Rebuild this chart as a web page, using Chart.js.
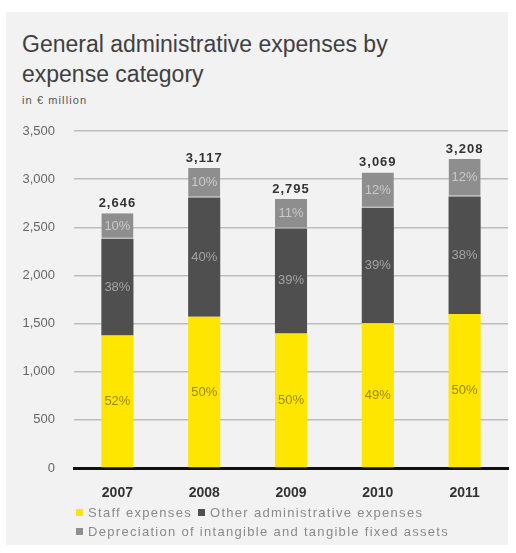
<!DOCTYPE html>
<html>
<head>
<meta charset="utf-8">
<script src="https://cdn.jsdelivr.net/npm/chart.js@4/dist/chart.umd.min.js"></script>
<style>
  html, body { margin: 0; padding: 0; background: #fff; }
  body { width: 516px; height: 553px; position: relative; overflow: hidden; font-family: "Liberation Sans", Arial, sans-serif; }
  .panel { position: absolute; left: 6px; top: 12px; width: 502px; height: 533px; background: #f2f2f2; }
  .title { position: absolute; left: 22px; top: 29px; font-size: 23px; line-height: 30px; color: #404040; }
  .unit { position: absolute; left: 22px; top: 94px; font-size: 11px; line-height: 13px; color: #555; letter-spacing: 1.1px; }
  canvas { position: absolute; left: 0; top: 0; }
  .legend { position: absolute; left: 76px; top: 503px; font-size: 13px; line-height: 19px; color: #8a8a8a; letter-spacing: 1.3px; }
  .legend span.item { margin-right: 6px; }
  .legend i { display: inline-block; width: 7px; height: 7px; margin-right: 5px; vertical-align: 1px; }
</style>
</head>
<body>
<div class="panel"></div>
<div class="title">General administrative expenses by<br>expense category</div>
<div class="unit">in € million</div>
<canvas id="chart" width="516" height="553"></canvas>
<div class="legend" id="legend"></div>

<script>
// values in € million per year
const years = ['2007', '2008', '2009', '2010', '2011'];
const staffExpenses = [1376, 1570, 1398, 1504, 1600];
const otherExpenses = [1005, 1240, 1090, 1200, 1220];
const depreciation = [265, 307, 307, 365, 388];

const seriesNames = ['Staff expenses', 'Other administrative expenses', 'Depreciation of intangible and tangible fixed assets'];
const seriesColors = ['#ffe600', '#4f4f4f', '#8e8e8e'];
const pctColors = ['#9a8800', '#a3a3a3', '#c9c9c9'];

const yMax = 3500;
const yStep = 500;

const totals = years.map((y, i) => staffExpenses[i] + otherExpenses[i] + depreciation[i]);

// percentage labels inside each segment, total on top of each stack
const barLabels = {
    id: 'barLabels',
    afterDatasetsDraw(chart) {
        const ctx = chart.ctx;
        ctx.save();
        ctx.textAlign = 'center';
        ctx.textBaseline = 'middle';
        ctx.font = '13px "Liberation Sans", Arial, sans-serif';
        chart.data.datasets.forEach((ds, i) => {
            chart.getDatasetMeta(i).data.forEach((bar, j) => {
                const pct = Math.round(ds.data[j] / totals[j] * 100);
                ctx.fillStyle = pctColors[i];
                ctx.fillText(pct + '%', bar.x, (bar.y + bar.base) / 2);
            });
        });

        const topMeta = chart.getDatasetMeta(chart.data.datasets.length - 1);
        ctx.font = 'bold 13px "Liberation Sans", Arial, sans-serif';
        ctx.letterSpacing = '1px';
        ctx.fillStyle = '#333';
        ctx.textBaseline = 'alphabetic';
        topMeta.data.forEach((bar, j) => {
            ctx.fillText(totals[j].toLocaleString('en-US'), bar.x, bar.y - 6);
        });
        ctx.restore();
    }
};

const datasets = [staffExpenses, otherExpenses, depreciation].map((data, i) => ({
    label: seriesNames[i],
    data: data,
    backgroundColor: seriesColors[i],
    borderWidth: i === 2 ? { top: 0, left: 0, right: 0, bottom: 1 } : 0,
    borderColor: '#d9d9d9',
    borderSkipped: false,
    categoryPercentage: 0.37,
    barPercentage: 1
}));

new Chart(document.getElementById('chart'), {
    type: 'bar',
    data: { labels: years, datasets: datasets },
    options: {
        responsive: false,
        devicePixelRatio: 1,
        animation: false,
        layout: { padding: { left: 0, top: 131, right: 8, bottom: 55 } },
        plugins: {
            legend: { display: false },
            tooltip: { enabled: false }
        },
        scales: {
            x: {
                stacked: true,
                z: 1,
                grid: { display: false },
                border: { display: true, color: '#111', width: 3 },
                ticks: {
                    padding: 9,
                    color: '#333',
                    font: { family: '"Liberation Sans", Arial, sans-serif', size: 14, weight: 'bold' }
                },
                afterFit: s => { s.height = 30; }
            },
            y: {
                stacked: true,
                min: 0,
                max: yMax,
                border: { display: false },
                grid: {
                    drawTicks: false,
                    lineWidth: 1.5,
                    color: c => c.tick && c.tick.value === 0 ? 'rgba(0,0,0,0)' : '#bdbdbd'
                },
                ticks: {
                    stepSize: yStep,
                    padding: 19,
                    color: '#666',
                    font: { family: '"Liberation Sans", Arial, sans-serif', size: 13 },
                    callback: v => v.toLocaleString('en-US')
                },
                afterFit: s => { s.width = 74; }
            }
        }
    },
    plugins: [barLabels]
});

// legend: two rows, staff + other on the first, depreciation on the second
const legend = document.getElementById('legend');
legend.innerHTML = seriesNames.map((name, i) =>
    `<span class="item"><i style="background:${seriesColors[i]}"></i>${name}</span>` + (i === 1 ? '<br>' : '')
).join('');
</script>
</body>
</html>
